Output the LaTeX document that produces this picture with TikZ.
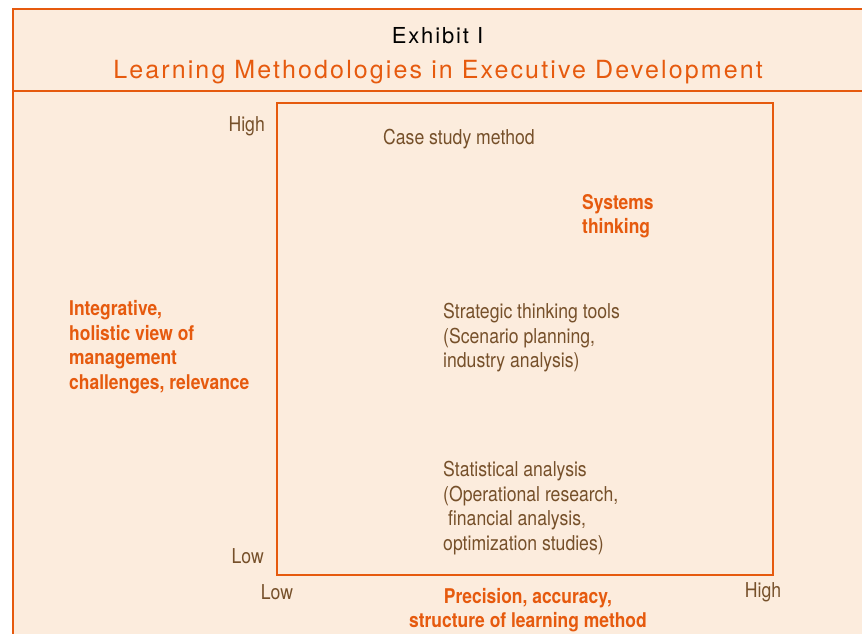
\documentclass[tikz,border=0pt]{standalone}
\usepackage{fontspec}
\setmainfont{TeX Gyre Heros}[FakeStretch=0.86]
\newfontfamily\titlefont{TeX Gyre Heros}[LetterSpace=8.5]
\definecolor{exorange}{RGB}{230,90,14}
\definecolor{exbrown}{RGB}{118,80,42}
\definecolor{expeach}{RGB}{252,236,221}

\begin{document}
\begin{tikzpicture}[x=1pt, y=-1pt,
	txt/.style={inner sep=0pt, text=exbrown, align=left, font=\fontsize{20.5}{24.5}\selectfont},
	key/.style={txt, text=exorange, font=\fontsize{20.3}{24.5}\selectfont\bfseries}]
	\useasboundingbox (0,0) rectangle (862,634);
	% panel and frame
	\fill[expeach] (13,9) rectangle (862,634);
	\draw[exorange, line width=2.6pt] (13,634) -- (13,9) -- (862,9);
	\draw[exorange, line width=2.6pt] (13,91) -- (862,91);
	\draw[exorange, line width=2pt] (277,103) rectangle (773,575);
	% heading
	\node (exhibit) at (437.5,36) [inner sep=0pt, font=\titlefont\fontsize{22}{24}\selectfont] {Exhibit I};
	\node (title) at (438,72.5) [inner sep=0pt, text=exorange, font=\titlefont\fontsize{25}{30}\selectfont] {Learning Methodologies in Executive Development};
	% axis ends
	\node (yhigh) at (265,126) [txt, anchor=east] {High};
	\node (ylow) at (264,556) [txt, anchor=east] {Low};
	\node (xlow) at (277,592) [txt] {Low};
	\node (xhigh) at (763,592) [txt] {High};
	\node (yaxis) at (69,347) [key, anchor=west] {Integrative,\\holistic view of\\management\\challenges, relevance};
	\node (xaxis) at (528,610) [key, align=center] {Precision, accuracy,\\structure of learning method};
	% methods
	\node (case) at (383,139) [txt, anchor=west] {Case study method};
	\node (systems) at (582,216) [key, anchor=west] {Systems\\thinking};
	\node (strategic) at (443,338) [txt, anchor=west] {Strategic thinking tools\\(Scenario planning,\\industry analysis)};
	\node (statistical) at (443,508) [txt, anchor=west] {Statistical analysis\\(Operational research,\\\ financial analysis,\\optimization studies)};
\end{tikzpicture}
\end{document}
